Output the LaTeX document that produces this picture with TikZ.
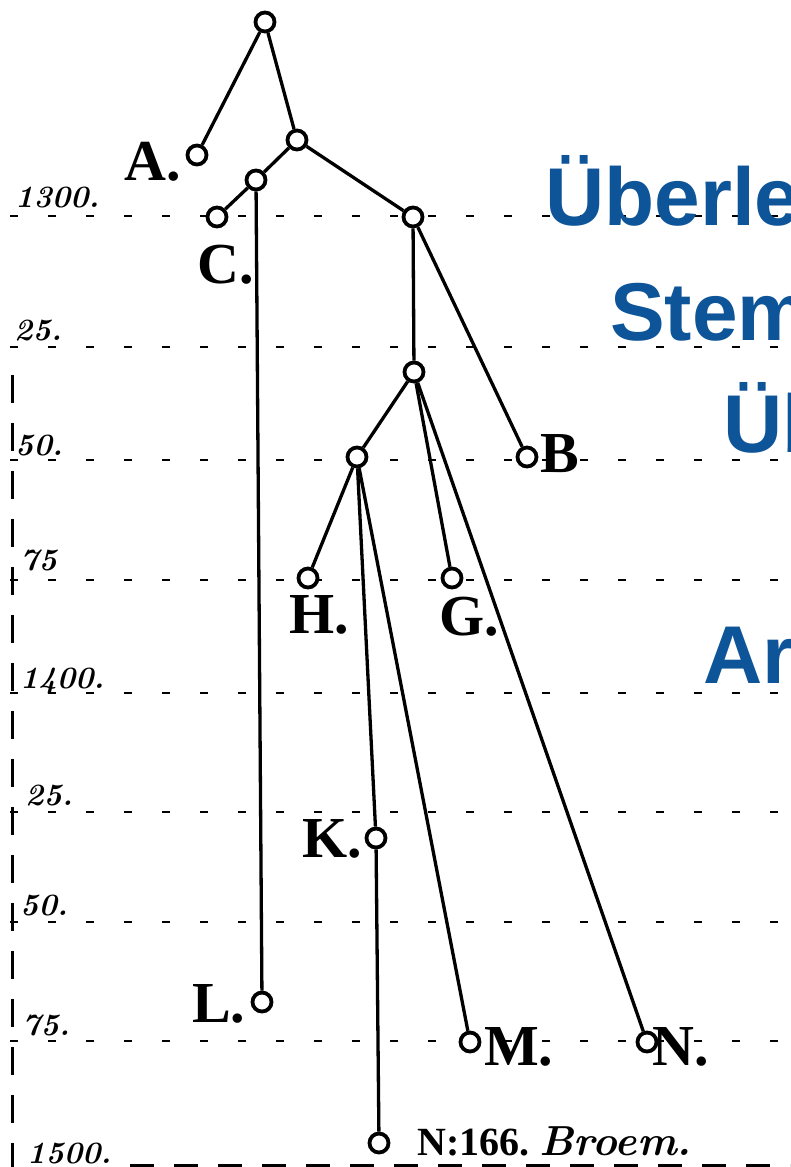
\documentclass[tikz,border=0pt]{standalone}
\usepackage{fontspec}
\newfontfamily\titelfont{Liberation Sans}
\newfontfamily\siglenfont{Liberation Serif}
\definecolor{titelblau}{RGB}{14,84,152}

\begin{document}
\begin{tikzpicture}[x=1pt, y=-1pt,
  hs/.style={draw, circle, line width=3.8pt, minimum size=19pt, inner sep=0pt, fill=white},
  sigle/.style={anchor=base west, inner sep=0pt, font=\siglenfont\bfseries\fontsize{58}{58}\selectfont},
  jahr/.style={anchor=base west, inner sep=0pt, font=\bfseries\itshape\fontsize{31}{31}\selectfont},
  titel/.style={anchor=base west, inner sep=0pt, text=titelblau, font=\titelfont\bfseries\fontsize{82}{82}\selectfont},
  zeile/.style={line width=2.8pt, dash pattern=on 8pt off 30pt},
  ast/.style={line width=3.3pt}]
  \useasboundingbox (0,0) rectangle (790,1167);
  \clip (0,0) rectangle (790,1167);

  % Jahreslinien
  \foreach \y in {216,347,460,580,693,812,922,1041}
    \draw[zeile] (10,\y) -- (790,\y);
  \draw[line width=4pt, dash pattern=on 24pt off 20pt] (130,1166) -- (790,1166);
  \draw[line width=3pt, dash pattern=on 28pt off 20pt] (12,375) -- (12,1167);

  % Jahreszahlen
  \foreach \x/\y/\j [count=\i] in {15/207/1300., 14/340/25., 15/455/50., 20/570/75,
      20/688/1400., 25/805/25., 20/915/50., 22/1035/75., 27/1163/1500.}
    \node[jahr] (jahr\i) at (\x,\y) {\j};

  % Titel (rechts abgeschnitten)
  \node[titel] (t1) at (545,225) {Überle};
  \node[titel] (t2) at (610,340) {Stem};
  \node[titel] (t3) at (723,452) {Üb};
  \node[titel] (t4) at (703,683) {Ar};

  % Handschriften
  \node[hs] (wurzel) at (265,22) {};
  \node[hs] (A) at (197,155) {};
  \node[hs] (x1) at (297,140) {};
  \node[hs] (x2) at (256,180) {};
  \node[hs] (C) at (217,217) {};
  \node[hs] (x3) at (413,217) {};
  \node[hs] (x4) at (414,372) {};
  \node[hs] (B) at (527,457) {};
  \node[hs] (x5) at (357,457) {};
  \node[hs] (H) at (308,578) {};
  \node[hs] (G) at (452,578) {};
  \node[hs] (K) at (376,838) {};
  \node[hs] (L) at (262,1002) {};
  \node[hs] (M) at (470,1042) {};
  \node[hs] (N) at (647,1042) {};
  \node[hs] (Br) at (379,1143) {};

  % Stemma
  \draw[ast] (wurzel) -- (A);
  \draw[ast] (wurzel) -- (x1);
  \draw[ast] (x1) -- (x2);
  \draw[ast] (x2) -- (C);
  \draw[ast] (x2) -- (L);
  \draw[ast] (x1) -- (x3);
  \draw[ast] (x3) -- (x4);
  \draw[ast] (x3) -- (B);
  \draw[ast] (x4) -- (x5);
  \draw[ast] (x4) -- (G);
  \draw[ast] (x4) -- (N);
  \draw[ast] (x5) -- (H);
  \draw[ast] (x5) -- (K);
  \draw[ast] (x5) -- (M);
  \draw[ast] (K) -- (Br);

  % Siglen
  \node[sigle] (lA) at (124,180) {A.};
  \node[sigle] (lC) at (197,283) {C.};
  \node[sigle] (lL) at (192,1022) {L.};
  \node[sigle] (lB) at (540,472) {B};
  \node[sigle] (lH) at (289,633) {H.};
  \node[sigle] (lG) at (439,635) {G.};
  \node[sigle] (lK) at (302,857) {K.};
  \node[sigle] (lM) at (484,1065) {M.};
  \node[sigle] (lN) at (652,1065) {N.};
  \node[anchor=base west, inner sep=0pt] (lBr) at (417,1155)
    {\siglenfont\bfseries\fontsize{40}{40}\selectfont N:166.\hspace{10pt}\normalfont\bfseries\itshape\fontsize{42}{42}\selectfont Broem.};
\end{tikzpicture}
\end{document}
